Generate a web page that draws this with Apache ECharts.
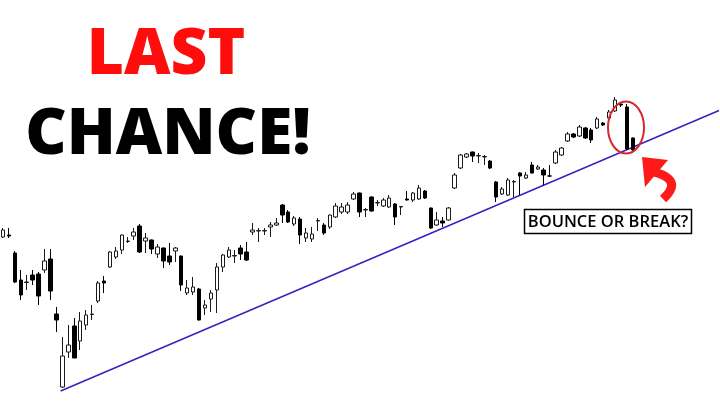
<!DOCTYPE html>
<html>
<head>
<meta charset="utf-8">
<script src="https://cdn.jsdelivr.net/npm/echarts@6/dist/echarts.min.js"></script>
<style>
html,body{margin:0;padding:0;background:#fff;}
#chart{width:720px;height:404px;}
</style>
</head>
<body>
<div id="chart"></div>
<script>
// Candle values (price units)
var opens = [167,169,151,124,121.5,129,130,134,145,90,
  17,52,78,63,79,89.5,103,123,137,147,
  154,162.5,168,178,163,164,150,156,148,153,
  148,111,112,115,96,105,114,137,147,148,
  156,152,172,173,173,177,179,199,192,180,
  185,166,165,183,179,177,187,192,192,205,
  211,194,207,201,198,197,200,197,205,204,
  205,213,196,179,183,184,216,236,247,252,
  248,247,243,222,210,209,222,231,226,239,
  235,234,228,241,249,263,270,268,276,274,
  276,281,286,293,300,297,266];
var closes = [174,168,122,109,122,124,108,143,113,84,
  48,59,46,83,89,90,121,121,152,153,
  169,163,172,152,166,155,157,143,142,156,
  119,116,117,84,99,111,137,149,154,148.5,
  150,144,174,173.5,173.5,179,181,189,182,186,
  169,171,170,183.5,171,189,198,197,199,210,
  192,194.5,193,201.5,204,206,187,197.5,204,211,
  216,206,176,184,181,196,229,249,250,248,
  248.5,247.5,236,207,215,224,222.5,228,229,231,
  237,229,228,252,256,270,267,277,266,264,
  285,279,292,304,299,255,254];
var lows = [166,166,121,104,114,119,99,131,104,72,
  16,46,46,54,74,84,101,111,136,145,
  150,161,164,151,151,150,146,136,139,142,
  113,109,109,83.5,89,92,91,132,146,141,
  144,143,169,162,169,167,178,181,181,178,
  160,162,162,173,169,175,186,190,190,204,
  187,187,192.5,198,197,196,179,189,203.5,202,
  204,205,175,178.5,177,183.5,215,235,246,242,
  241,239,235,202,209,208,207,209,225,230.5,
  234,219,227,240,248,262,266,267,265,261,
  275,278,284,292,297,254,253];
var highs = [176,176,153,134,129,134,132,155,155,97,
  67,79,86,92,94,99,123,128,153,157,
  169.5,167,176,180,171,164.5,160,156.5,161,157,
  148.5,124,127,116,104,114,141,150,157,154,
  159,162,181,176,176,182,186,200,194,188,
  187,176,177,186,181,189.5,201,201,202,212,
  211.5,196,207.5,204,206,209,201,198,213,212,
  219,214,196.5,192,187,197,231,250,251,252.5,
  251,249,244,223,217,226,224,232,232,242,
  239,236,239,254,257,272,271,279,277,276,
  287,282,294,307,301,300,266.5];
// Trend line (x in candle-index units, y in price units)
var trendX = [9.7, 120.5];
var trendY = [13, 293.5];
// Texts
var titleLine1 = 'LAST';
var titleLine2 = 'CHANCE!';
var boxLabel = 'BOUNCE OR BREAK?';

var totalSlots = 121;
var categories = [];
for (var i = 0; i < totalSlots; i++) categories.push(String(i + 1));
var candles = opens.map(function (o, i) { return [o, closes[i], lows[i], highs[i]]; });
var trend = trendX.map(function (x, i) { return [x, trendY[i]]; });

var chart = echarts.init(document.getElementById('chart'), null, {renderer: 'canvas'});
chart.setOption({
  animation: false,
  backgroundColor: '#ffffff',
  grid: {left: -1, right: 1, top: 0, bottom: 0},
  xAxis: [
    {type: 'category', data: categories, show: false, boundaryGap: true},
    {type: 'value', min: -0.5, max: totalSlots - 0.5, show: false}
  ],
  yAxis: {type: 'value', min: 0, max: 404, show: false, splitLine: {show: false}},
  series: [
    {
      type: 'candlestick',
      xAxisIndex: 0,
      data: candles,
      barWidth: 4,
      itemStyle: {
        color: '#ffffff', color0: '#000000',
        borderColor: '#1a1a1a', borderColor0: '#000000',
        borderWidth: 1
      },
      z: 3
    },
    {
      type: 'line',
      xAxisIndex: 1,
      data: trend,
      symbol: 'none',
      lineStyle: {color: '#3b1fc2', width: 1.5},
      z: 2
    }
  ],
  graphic: [
    {type: 'text', x: 166, y: 56, z: 10,
     style: {text: titleLine1, font: '800 64px "Open Sans"', fill: '#ff0d0d', align: 'center', verticalAlign: 'middle'}},
    {type: 'text', x: 168, y: 136, z: 10,
     style: {text: titleLine2, font: '800 64px "Open Sans"', fill: '#000000', align: 'center', verticalAlign: 'middle'}},
    {type: 'ellipse', z: 10, shape: {cx: 626, cy: 127.5, rx: 18, ry: 26},
     style: {fill: 'none', stroke: '#d8262a', lineWidth: 2}},
    {type: 'polygon', z: 10, shape: {points: [[642, 157], [668, 160], [645, 187]]},
     style: {fill: '#ff1a1a'}},
    {type: 'bezierCurve', z: 10, shape: {x1: 654, y1: 172, cpx1: 684, cpy1: 180, x2: 663, y2: 199},
     style: {fill: 'none', stroke: '#ff1a1a', lineWidth: 9}},
    {type: 'rect', z: 10, shape: {x: 524.5, y: 209.5, width: 167, height: 24},
     style: {fill: '#ffffff', stroke: '#000000', lineWidth: 1.5}},
    {type: 'text', x: 608, y: 222, z: 11,
     style: {text: boxLabel, font: '600 16.5px "Open Sans"', fill: '#000000', align: 'center', verticalAlign: 'middle'}}
  ]
});
</script>
</body>
</html>
